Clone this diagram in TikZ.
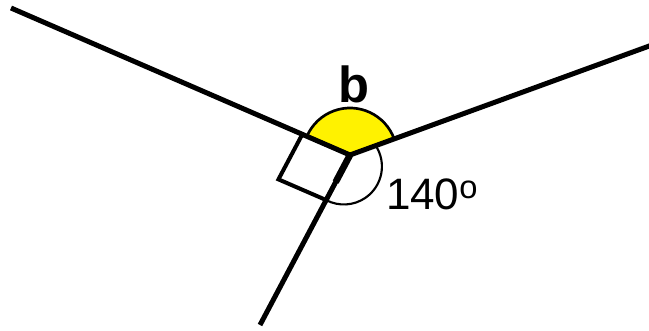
\documentclass[tikz,border=0pt]{standalone}
\usepackage{fontspec}
\setmainfont{Liberation Sans}
\usetikzlibrary{calc}
\begin{document}
\begin{tikzpicture}[x=0.75pt,y=0.75pt,
  ray/.style={line width=3.75pt},
  sq/.style={line width=3pt, line join=miter},
  angarc/.style={line width=1.6pt},
  sectoredge/.style={line width=2pt},
  lbl/.style={inner sep=0pt, outer sep=0pt}]
\useasboundingbox (0,0) rectangle (649,-331);
\coordinate (V) at (350,-155);
\coordinate (A) at (11,-8);
\coordinate (B) at (652,-45);
\coordinate (D) at (260,-325);
\coordinate (S1) at ($(V)!0.1407!(A)$);
\coordinate (S2) at ($(V)!0.265!(D)$);
\coordinate (S3) at ($(S1)+(S2)-(V)$);
\coordinate (C) at ($(V)!0.0676!(D)$);
% yellow sector b
\fill[yellow] (V) -- ($(V)+(20:35.25pt)$) arc[start angle=20, end angle=156.5, radius=35.25pt] -- cycle;
\draw[sectoredge] ($(V)+(20:35.25pt)$) arc[start angle=20, end angle=156.5, radius=35.25pt];
% 140 arc
\draw[angarc] ($(C)+(34:28.5pt)$) arc[start angle=34, end angle=-117.9, radius=28.5pt];
% right-angle square
\draw[sq] (V) -- (S1) -- (S3) -- (S2) -- cycle;
% rays
\draw[ray, line join=miter] (A) -- (V) -- (B);
\draw[ray] (V) -- (D);
\draw[line width=5pt] (V) -- ($(V)!0.6!(S2)$);
% labels
\node[lbl, font=\bfseries\fontsize{38}{40}\selectfont] (b) at (353.5,-84) {b};
\node[lbl, anchor=base west, font=\fontsize{33}{36}\selectfont] (ang) at (386,-210) {140\raisebox{8.8pt}{\fontsize{24.5}{26}\selectfont o}};
\end{tikzpicture}
\end{document}
